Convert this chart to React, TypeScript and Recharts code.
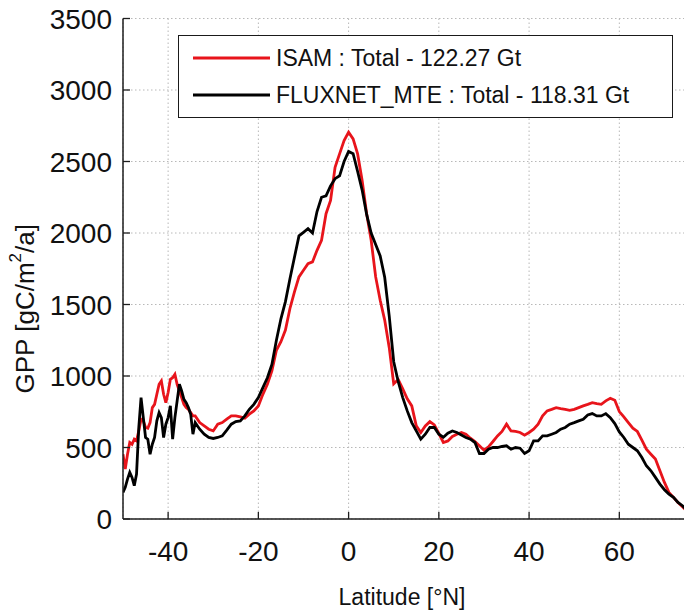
import { LineChart, Line, XAxis, YAxis, CartesianGrid, Legend, Label } from 'recharts'

const latitudes = [
  -50, -49.5, -49, -48.5, -48, -47.5, -47, -46.5, -46, -45.5, -45, -44.5, -44, -43.5, -43, -42.5, -42,
  -41.5, -41, -40.5, -40, -39.5, -39, -38.5, -38, -37.5, -37, -36.5, -36, -35.5, -35, -34.5, -34,
  -33, -32, -31, -30, -29, -28, -27, -26, -25, -24, -23, -22, -21, -20, -19, -18, -17, -16, -15, -14,
  -13, -12, -11, -10, -9, -8, -7, -6, -5, -4, -3, -2, -1, 0, 1, 2, 3, 4, 5, 6, 7, 8, 9, 10, 11, 12, 13,
  14, 15, 16, 17, 18, 19, 20, 21, 22, 23, 24, 25, 26, 27, 28, 29, 30, 31, 32, 33, 34, 35, 36, 37, 38,
  39, 40, 41, 42, 43, 44, 45, 46, 47, 48, 49, 50, 51, 52, 53, 54, 55, 56, 57, 58, 59, 60, 61, 62, 63,
  64, 65, 66, 67, 68, 69, 70, 71, 72, 73, 74, 75,
]

// ISAM GPP [gC/m2/a]
const isamGpp = [
  453, 349, 453, 535, 523, 558, 546, 616, 698, 686, 640, 635, 674, 779, 802, 872, 942,
  965, 872, 814, 884, 977, 988, 1012, 942, 895, 849, 802, 779, 767, 744, 721, 721,
  674, 651, 628, 616, 663, 674, 698, 721, 721, 714, 705, 733, 756, 791, 872, 942, 1035, 1180, 1240, 1321,
  1472, 1588, 1693, 1739, 1786, 1798, 1879, 1949, 2135, 2228, 2460, 2553, 2646, 2705, 2658, 2553, 2367, 2135, 1949, 1693, 1530, 1391, 1200, 945, 975, 910, 840,
  791, 651, 605, 651, 681, 658, 598, 535, 546, 577, 593, 605, 593, 565, 542, 512, 481, 505, 542, 581, 612, 663, 616, 612, 605,
  586, 605, 628, 663, 721, 756, 767, 779, 772, 767, 760, 767, 779, 791, 802, 814, 807, 802, 826, 844, 830, 751, 714, 674, 635,
  612, 551, 488, 453, 419, 337, 256, 186, 151, 116, 86, 55,
]

// FLUXNET_MTE GPP [gC/m2/a]
const fluxnetGpp = [
  186, 221, 279, 326, 291, 233, 314, 640, 849, 709, 570, 558, 453, 523, 570, 686, 744,
  709, 570, 663, 709, 791, 558, 709, 826, 942, 895, 837, 814, 779, 733, 593, 674,
  628, 593, 570, 563, 570, 581, 621, 663, 681, 686, 721, 767, 802, 849, 919, 988, 1081, 1250, 1400, 1520,
  1680, 1830, 1980, 2005, 2030, 2000, 2150, 2250, 2260, 2330, 2380, 2400, 2500, 2570, 2555, 2430, 2300, 2130, 2000, 1920, 1840, 1690, 1420, 1100, 960, 849, 756,
  674, 616, 558, 593, 640, 640, 593, 572, 600, 616, 605, 588, 570, 558, 535, 458, 458, 488, 500, 500, 507, 512, 488, 500, 495,
  458, 477, 546, 546, 581, 581, 593, 605, 628, 640, 663, 674, 686, 698, 728, 737, 721, 721, 737, 709, 667, 609, 570, 523, 500,
  477, 430, 372, 337, 291, 244, 205, 174, 151, 116, 93, 62,
]

const xTicks = [-40, -20, 0, 20, 40, 60]
const yTicks = [0, 500, 1000, 1500, 2000, 2500, 3000, 3500]
const isamName = 'ISAM : Total - 122.27 Gt'
const fluxnetName = 'FLUXNET_MTE : Total - 118.31 Gt'
const legendOrder = [isamName, fluxnetName]

const FONT = '"Liberation Sans", Arial, Helvetica, sans-serif'
const AXIS = '#1e1e1e'

const data = latitudes.map((lat, i) => ({ lat, isam: isamGpp[i], fluxnet: fluxnetGpp[i] }))

function BottomTick({ x, y, payload }: any) {
  return (
    <g>
      <line x1={x} y1={y} x2={x} y2={y - 7} stroke={AXIS} strokeWidth={1.3} />
      <text x={x} y={y + 42} textAnchor="middle" fontSize={28} fill="#111" fontFamily={FONT}>
        {payload.value}
      </text>
    </g>
  )
}

function TopTick({ x, y }: any) {
  return <line x1={x} y1={y} x2={x} y2={y + 7} stroke={AXIS} strokeWidth={1.3} />
}

function LeftTick({ x, y, payload }: any) {
  return (
    <g>
      <line x1={x} y1={y} x2={x + 7} y2={y} stroke={AXIS} strokeWidth={1.3} />
      <text x={x - 11} y={y + 10} textAnchor="end" fontSize={28} fill="#111" fontFamily={FONT}>
        {payload.value}
      </text>
    </g>
  )
}

function LegendBox({ payload }: any) {
  const items = [...(payload || [])].sort(
    (a: any, b: any) => legendOrder.indexOf(a.value) - legendOrder.indexOf(b.value),
  )
  return (
    <div
      style={{
        position: 'relative',
        width: 495,
        height: 83,
        boxSizing: 'border-box',
        border: '1.5px solid #1a1a1a',
        background: '#fff',
      }}
    >
      {items.map((entry: any, i: number) => (
        <div
          key={entry.value}
          style={{ position: 'absolute', left: 0, top: 3 + i * 37, height: 38, display: 'flex', alignItems: 'center' }}
        >
          <svg width={97} height={8} style={{ display: 'block' }}>
            <line x1={14} y1={4} x2={91} y2={4} stroke={entry.color} strokeWidth={3} />
          </svg>
          <span style={{ fontFamily: FONT, fontSize: 23, color: '#111', whiteSpace: 'nowrap', lineHeight: '38px' }}>
            {entry.value}
          </span>
        </div>
      ))}
    </div>
  )
}

function YTitle({ viewBox }: any) {
  const cx = 25
  const cy = viewBox.y + viewBox.height / 2 + 40
  return (
    <text
      transform={`translate(${cx},${cy}) rotate(-90)`}
      textAnchor="middle"
      dominantBaseline="central"
      fontSize={26}
      fill="#111"
      fontFamily={FONT}
    >
      <tspan>GPP [gC/m</tspan>
      <tspan fontSize={17} dy={-10}>2</tspan>
      <tspan dy={10}>/a]</tspan>
    </text>
  )
}

function XTitle({ viewBox }: any) {
  return (
    <text
      x={viewBox.x + viewBox.width / 2 - 3}
      y={viewBox.y + 86}
      textAnchor="middle"
      fontSize={23}
      fill="#111"
      fontFamily={FONT}
    >
      Latitude [°N]
    </text>
  )
}

export default function App() {
  return (
    <div style={{ width: 684, height: 612, overflow: 'hidden', background: '#fff' }}>
      <style>{'html, body { margin: 0; padding: 0; overflow: hidden; }'}</style>
      <LineChart width={692} height={612} data={data} margin={{ top: 18.5, right: 5, bottom: 13, left: 8 }}>
        <CartesianGrid stroke="#b8b8b8" strokeDasharray="1.5 2.5" strokeWidth={1} />
        <XAxis
          dataKey="lat"
          type="number"
          domain={[-50, 75]}
          ticks={xTicks}
          interval={0}
          allowDataOverflow
          height={80}
          tickSize={0}
          tickMargin={0}
          tick={<BottomTick />}
          axisLine={{ stroke: AXIS, strokeWidth: 1.5 }}
        >
          <Label content={<XTitle />} />
        </XAxis>
        <XAxis
          xAxisId="top"
          orientation="top"
          dataKey="lat"
          type="number"
          domain={[-50, 75]}
          ticks={xTicks}
          interval={0}
          height={0}
          tickSize={0}
          tickMargin={0}
          tick={<TopTick />}
          axisLine={{ stroke: AXIS, strokeWidth: 1.5 }}
        />
        <YAxis
          type="number"
          domain={[0, 3500]}
          ticks={yTicks}
          interval={0}
          width={115}
          tickSize={0}
          tickMargin={0}
          tick={<LeftTick />}
          axisLine={{ stroke: AXIS, strokeWidth: 1.5 }}
        >
          <Label content={<YTitle />} />
        </YAxis>
        <Legend
          layout="vertical"
          align="center"
          verticalAlign="middle"
          content={<LegendBox />}
          wrapperStyle={{ left: 178, top: 35, width: 495, height: 83 }}
        />
        <Line
          type="linear"
          dataKey="isam"
          name={isamName}
          stroke="#e8141b"
          strokeWidth={2.8}
          dot={false}
          isAnimationActive={false}
        />
        <Line
          type="linear"
          dataKey="fluxnet"
          name={fluxnetName}
          stroke="#000000"
          strokeWidth={2.8}
          dot={false}
          isAnimationActive={false}
        />
      </LineChart>
    </div>
  )
}
